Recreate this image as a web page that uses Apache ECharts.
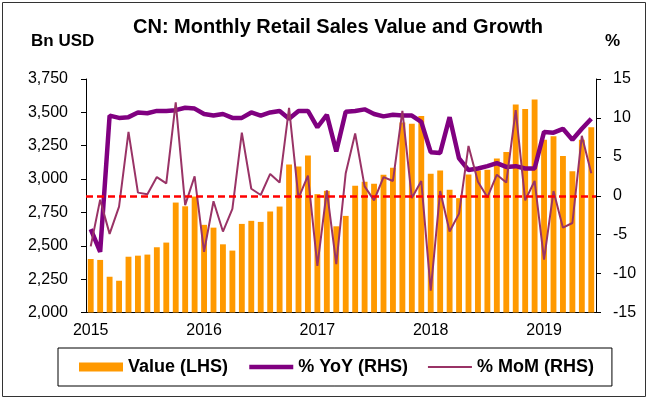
<!DOCTYPE html>
<html>
<head>
<meta charset="utf-8">
<script src="https://cdn.jsdelivr.net/npm/echarts@6/dist/echarts.min.js"></script>
<style>
  html, body { margin: 0; padding: 0; background: #fff; }
  #chart { width: 648px; height: 401px; }
</style>
</head>
<body>
<div id="chart"></div>
<script>
const FONT = 'Liberation Sans';

const categories = [
  '2015-01', '2015-02', '2015-03', '2015-04', '2015-05', '2015-06', '2015-07', '2015-08', '2015-09', '2015-10', '2015-11', '2015-12',
  '2016-01', '2016-02', '2016-03', '2016-04', '2016-05', '2016-06', '2016-07', '2016-08', '2016-09', '2016-10', '2016-11', '2016-12',
  '2017-01', '2017-02', '2017-03', '2017-04', '2017-05', '2017-06', '2017-07', '2017-08', '2017-09', '2017-10', '2017-11', '2017-12',
  '2018-01', '2018-02', '2018-03', '2018-04', '2018-05', '2018-06', '2018-07', '2018-08', '2018-09', '2018-10', '2018-11', '2018-12',
  '2019-01', '2019-02', '2019-03', '2019-04', '2019-05', '2019-06'
];

// Value (LHS), Bn USD
const salesValue = [
  2401, 2394, 2268, 2238, 2418, 2426, 2434, 2489, 2524, 2824, 2796, 2869,
  2657, 2636, 2511, 2464, 2664, 2687, 2679, 2757, 2794, 3110, 3095, 3177,
  2887, 2912, 2646, 2724, 2950, 2980, 2965, 3033, 3085, 3424, 3415, 3473,
  3040, 3065, 2920, 2857, 3035, 3065, 3070, 3155, 3202, 3558, 3525, 3596,
  3295, 3320, 3172, 3059, 3295, 3388
];

// % YoY (RHS)
const yoyGrowth = [
  -4.3, -7.2, 10.3, 10.0, 10.1, 10.7, 10.6, 10.9, 10.9, 11.0, 11.3, 11.2,
  10.5, 10.3, 10.5, 10.0, 10.0, 10.7, 10.3, 10.7, 10.9, 9.9, 10.9, 10.9,
  8.8, 10.4, 5.7, 10.8, 10.9, 11.1, 10.5, 10.2, 10.4, 10.3, 10.3, 9.5,
  5.6, 5.5, 10.1, 4.8, 3.3, 3.5, 3.8, 4.2, 3.7, 3.8, 3.5, 3.5,
  8.2, 8.1, 8.6, 7.2, 8.6, 9.9
];

// % MoM (RHS)
const momGrowth = [
  -6.5, -0.5, -4.9, -1.4, 8.2, 0.4, 0.2, 2.4, 1.6, 12.0, -1.2, 2.5,
  -7.2, -0.7, -4.6, -1.7, 8.1, 0.9, 0.1, 2.8, 1.7, 11.3, -0.3, 2.6,
  -9.0, 0.7, -8.8, 2.9, 8.0, 1.2, -0.6, 2.4, 1.9, 10.9, -0.3, 1.9,
  -12.2, 0.6, -4.6, -2.3, 6.4, 1.8, -0.2, 2.7, 1.7, 11.0, -0.6, 1.9,
  -8.2, 0.6, -4.1, -3.5, 7.7, 2.9
];

const chart = echarts.init(document.getElementById('chart'), null, { renderer: 'canvas' });

const axisText = { color: '#000', fontFamily: FONT, fontSize: 16 };

const option = {
  animation: false,
  backgroundColor: '#fff',
  title: {
    text: 'CN: Monthly Retail Sales Value and Growth',
    left: 133,
    top: 17,
    padding: 0,
    textStyle: { fontFamily: FONT, fontSize: 20, fontWeight: 'bold', color: '#000' }
  },
  graphic: [
    {
      type: 'rect',
      shape: { x: 2.5, y: 2.5, width: 643, height: 394 },
      style: { fill: 'none', stroke: '#333', lineWidth: 1 },
      silent: true
    },
    {
      type: 'text', x: 31, y: 33,
      style: { text: 'Bn USD', fontFamily: FONT, fontSize: 17, fontWeight: 'bold', fill: '#000' }
    },
    {
      type: 'text', x: 605, y: 33,
      style: { text: '%', fontFamily: FONT, fontSize: 17, fontWeight: 'bold', fill: '#000' }
    }
  ],
  legend: {
    left: 58,
    top: 348,
    padding: [10, 18, 10, 21],
    itemGap: 19,
    itemWidth: 44,
    itemHeight: 9,
    borderColor: '#000',
    borderWidth: 1,
    textStyle: { fontFamily: FONT, fontSize: 18, fontWeight: 'bold', color: '#000' },
    data: [
      { name: 'Value (LHS)', icon: 'rect' },
      { name: '% YoY (RHS)', itemStyle: { opacity: 0 }, lineStyle: { width: 4.5 } },
      { name: '% MoM (RHS)', itemStyle: { opacity: 0 }, lineStyle: { width: 2 } }
    ]
  },
  grid: { left: 86, top: 79, width: 510, height: 233.5 },
  xAxis: {
    type: 'category',
    data: categories,
    boundaryGap: true,
    axisLine: { onZero: false, lineStyle: { color: '#000', width: 1 } },
    axisTick: {
      length: 5,
      interval: (i) => i % 12 === 0,
      lineStyle: { color: '#000' }
    },
    axisLabel: Object.assign({
      margin: 10,
      interval: (i) => i % 12 === 0,
      formatter: (v) => v.slice(0, 4)
    }, axisText),
    splitLine: { show: false }
  },
  yAxis: [
    {
      type: 'value',
      min: 2000,
      max: 3750,
      interval: 250,
      axisLine: { show: true, lineStyle: { color: '#000', width: 1 } },
      axisTick: { show: true, length: 5, lineStyle: { color: '#000' } },
      axisLabel: Object.assign({
        margin: 18,
        formatter: (v) => v.toLocaleString('en-US')
      }, axisText),
      splitLine: { show: false }
    },
    {
      type: 'value',
      min: -15,
      max: 15,
      interval: 5,
      position: 'right',
      axisLine: { show: true, lineStyle: { color: '#000', width: 1 } },
      axisTick: { show: true, length: 5, lineStyle: { color: '#000' } },
      axisLabel: Object.assign({ margin: 17 }, axisText),
      splitLine: { show: false }
    }
  ],
  series: [
    {
      name: 'Value (LHS)',
      type: 'bar',
      yAxisIndex: 0,
      data: salesValue,
      barCategoryGap: '38%',
      itemStyle: { color: '#FF9900' }
    },
    {
      name: '% YoY (RHS)',
      type: 'line',
      yAxisIndex: 1,
      data: yoyGrowth,
      symbol: 'none',
      lineStyle: { color: '#800080', width: 4.5 },
      itemStyle: { color: '#800080' },
      markLine: {
        silent: true,
        symbol: ['none', 'none'],
        label: { show: false },
        itemStyle: { color: '#FF0000' },
        lineStyle: { color: '#FF0000', width: 2.5, type: [7, 4], opacity: 1 },
        emphasis: { disabled: true },
        data: [{ yAxis: 0 }]
      }
    },
    {
      name: '% MoM (RHS)',
      type: 'line',
      yAxisIndex: 1,
      data: momGrowth,
      symbol: 'none',
      lineStyle: { color: '#993366', width: 2 },
      itemStyle: { color: '#993366' }
    }
  ]
};

chart.setOption(option);
</script>
</body>
</html>
